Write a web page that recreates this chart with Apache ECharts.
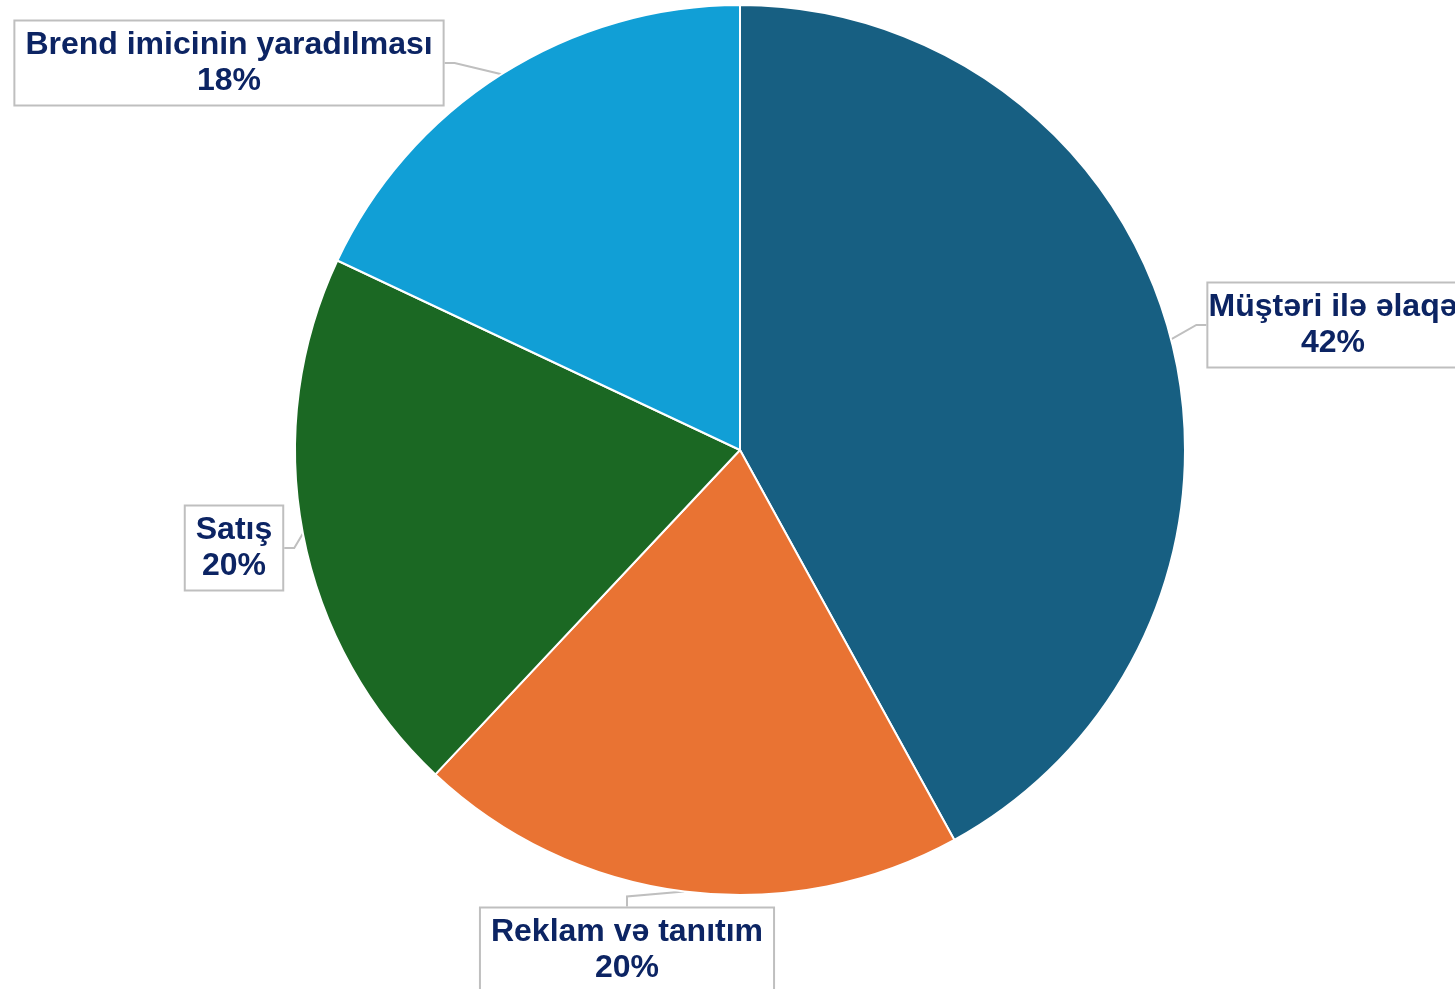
<!DOCTYPE html>
<html>
<head>
<meta charset="utf-8">
<style>
  html, body { margin: 0; padding: 0; background: #fff; }
  #chart { width: 1455px; height: 989px; }
</style>
<script src="https://cdn.jsdelivr.net/npm/echarts@6/dist/echarts.min.js"></script>
</head>
<body>
<div id="chart"></div>
<script>
// data
var categories = ['Müştəri ilə əlaqə', 'Reklam və tanıtım', 'Satış', 'Brend imicinin yaradılması'];
var values = [42, 20, 20, 18];
var colors = ['#175f82', '#e97333', '#1b6823', '#119fd6'];

// label box centres (layout only)
var labelPos = [[1333, 325], [627, 950], [234, 548], [229, 63]];

var myChart = echarts.init(document.getElementById('chart'));
var option = {
  animation: false,
  series: [
    {
      type: 'pie',
      center: ['740px', '450px'],
      radius: 445,
      startAngle: 90,
      clockwise: true,
      data: categories.map(function (name, i) {
        return { name: name, value: values[i], itemStyle: { color: colors[i] } };
      }),
      itemStyle: {
        borderColor: '#fff',
        borderWidth: 2
      },
      label: {
        show: true,
        formatter: '{b}\n{d}%',
        fontFamily: 'Liberation Sans, Arial, sans-serif',
        fontWeight: 'bold',
        fontSize: 32,
        lineHeight: 36,
        color: '#0c2463',
        align: 'center',
        overflow: 'none',
        backgroundColor: '#fff',
        borderColor: '#bfbfbf',
        borderWidth: 2,
        padding: [7, 10, 4, 10]
      },
      labelLine: {
        show: true,
        length: 10,
        length2: 10,
        lineStyle: { color: '#bfbfbf', width: 2 }
      },
      labelLayout: function (params) {
        var p = labelPos[params.dataIndex];
        return {
          x: p[0],
          y: p[1],
          align: 'center',
          verticalAlign: 'middle'
        };
      }
    }
  ]
};
myChart.setOption(option);
window.addEventListener('resize', function () {
  myChart.resize();
});
</script>
</body>
</html>
